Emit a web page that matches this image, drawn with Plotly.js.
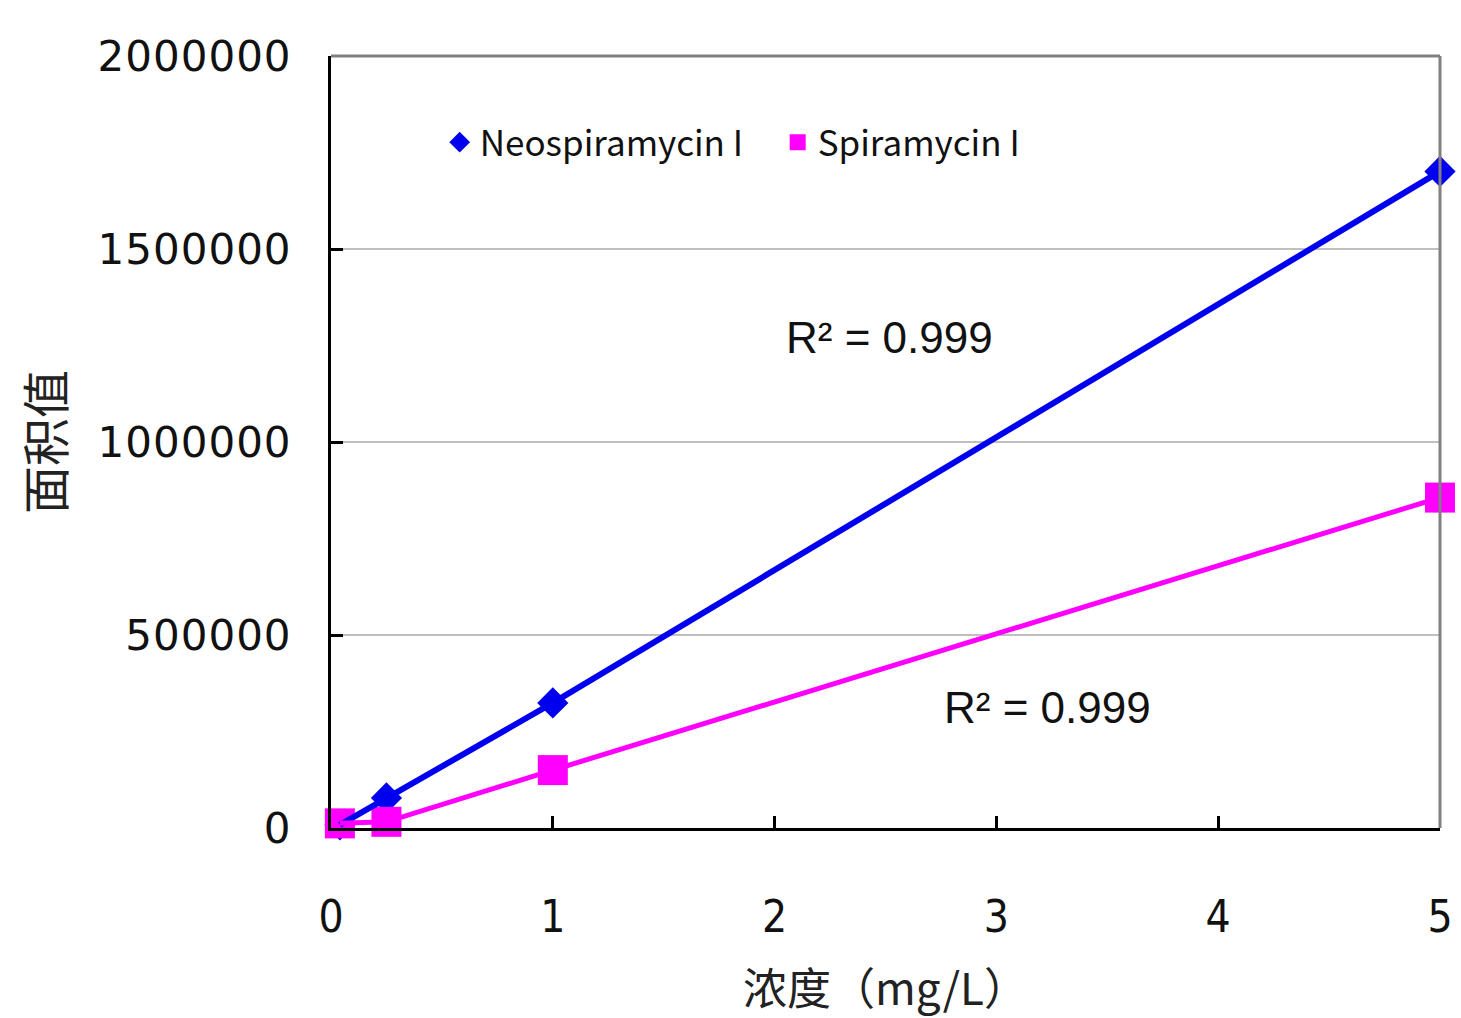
<!DOCTYPE html>
<html>
<head>
<meta charset="utf-8">
<script src="https://cdn.plot.ly/plotly-3.0.1.min.js"></script>
<style>
  html, body { margin: 0; padding: 0; background: #fff; }
  #chart { width: 1461px; height: 1018px; }
  .ytick text { letter-spacing: 1px; }
</style>
</head>
<body>
<div id="chart"></div>
<script>
// Data
const concentration = [0.04, 0.25, 1, 5];                 // 浓度 (mg/L)
const neospiramycin = [8000, 78000, 324000, 1701000];     // 面积值
const spiramycin = [12000, 16000, 150000, 856000];        // 面积值
const seriesNames = ['Neospiramycin I', 'Spiramycin I'];
const r2Labels = ['R² = 0.999', 'R² = 0.999'];
const xTickVals = [0, 1, 2, 3, 4, 5];
const yTickVals = [0, 500000, 1000000, 1500000, 2000000];

const blue = '#0000ee';
const magenta = '#ff00ff';

const traces = [
  {
    x: concentration, y: neospiramycin, name: seriesNames[0],
    type: 'scatter', mode: 'markers', cliponaxis: false,
    marker: { symbol: 'diamond', size: 24, color: blue, line: { width: 0 } }
  },
  {
    x: concentration, y: spiramycin, name: seriesNames[1],
    type: 'scatter', mode: 'markers', cliponaxis: false,
    marker: { symbol: 'square', size: 30, color: magenta, line: { width: 0 } }
  },
  {
    x: concentration, y: neospiramycin, name: seriesNames[0] + ' line',
    type: 'scatter', mode: 'lines', showlegend: false, cliponaxis: false,
    line: { color: blue, width: 6 }
  },
  {
    x: concentration, y: spiramycin, name: seriesNames[1] + ' line',
    type: 'scatter', mode: 'lines', showlegend: false, cliponaxis: false,
    line: { color: magenta, width: 5 }
  }
];

const layout = {
  width: 1461, height: 1018,
  paper_bgcolor: '#ffffff', plot_bgcolor: '#ffffff',
  margin: { l: 331, r: 21, t: 56, b: 190, pad: 0 },
  showlegend: true,
  legend: {
    orientation: 'h', x: 0.098, y: 0.888, xanchor: 'left', yanchor: 'middle',
    bgcolor: 'rgba(255,255,255,0)', borderwidth: 0,
    itemwidth: 30, entrywidth: 293, entrywidthmode: 'pixels',
    font: { family: 'Noto Sans CJK JP, Noto Sans, sans-serif', size: 35, color: '#111' }
  },
  xaxis: {
    range: [0, 5], tickvals: xTickVals, ticktext: xTickVals.map(String),
    showgrid: false, zeroline: false,
    showline: true, linecolor: '#000', linewidth: 3,
    ticks: 'inside', ticklen: 12, tickwidth: 3, tickcolor: '#000',
    ticklabelstandoff: 48,
    tickfont: { family: 'DejaVu Sans Condensed, Liberation Sans Narrow, Noto Sans CJK JP, sans-serif', size: 44, color: '#111' },
    title: { text: '浓度（mg/L）', standoff: 35,
             font: { family: 'Noto Sans CJK SC, sans-serif', size: 44, color: '#222' } }
  },
  yaxis: {
    range: [0, 2000000], tickvals: yTickVals, tickformat: 'd',
    showgrid: true, gridcolor: '#c0c0c0', gridwidth: 2,
    zeroline: false,
    showline: true, linecolor: '#000', linewidth: 3,
    ticks: 'inside', ticklen: 12, tickwidth: 3, tickcolor: '#000',
    ticklabelstandoff: 28,
    tickfont: { family: 'DejaVu Sans, sans-serif', size: 42, color: '#111' },
    title: { text: '面积值', standoff: 18,
             font: { family: 'Noto Sans CJK SC, sans-serif', size: 48, color: '#222' } }
  },
  shapes: [
    { type: 'line', xref: 'paper', yref: 'paper', x0: 0, x1: 1, y0: 1, y1: 1,
      line: { color: '#808080', width: 3 } },
    { type: 'line', xref: 'paper', yref: 'paper', x0: 1, x1: 1, y0: 0, y1: 1,
      line: { color: '#808080', width: 3 } }
  ],
  annotations: [
    { x: 2.52, y: 1271000, xref: 'x', yref: 'y', text: r2Labels[0], showarrow: false,
      font: { family: 'Liberation Sans, Arial, sans-serif', size: 44, color: '#111' } },
    { x: 3.23, y: 311000, xref: 'x', yref: 'y', text: r2Labels[1], showarrow: false,
      font: { family: 'Liberation Sans, Arial, sans-serif', size: 44, color: '#111' } }
  ]
};

Plotly.newPlot('chart', traces, layout, { staticPlot: true, displayModeBar: false });
</script>
</body>
</html>
